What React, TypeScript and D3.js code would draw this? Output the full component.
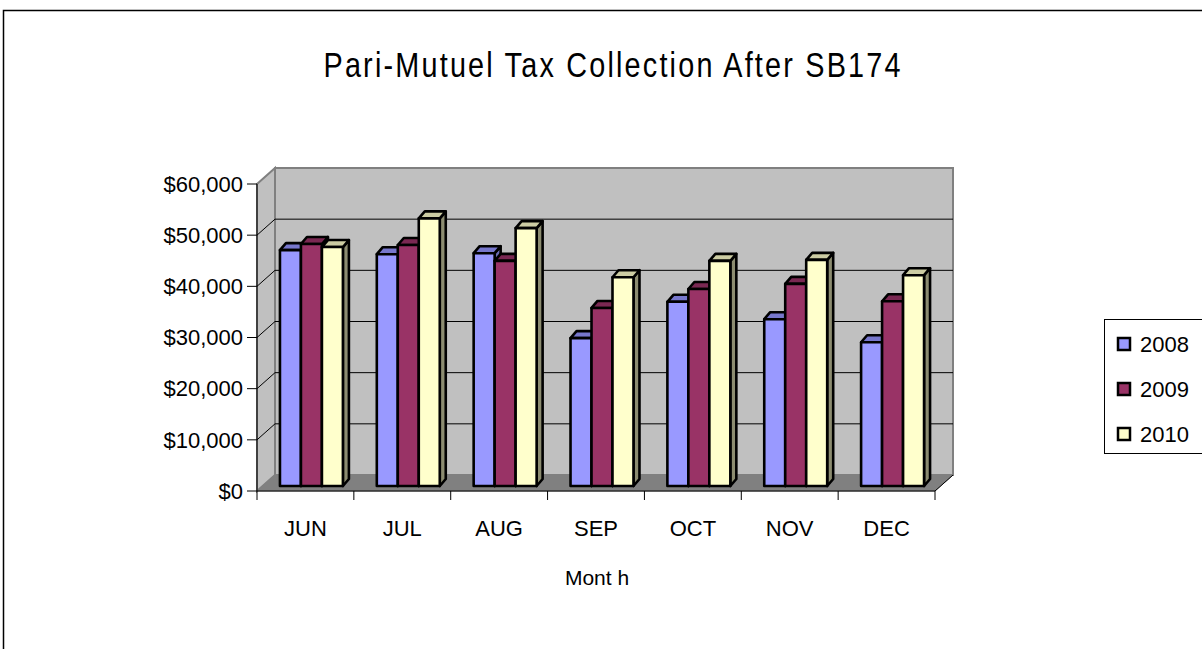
import React from "react";
import * as d3 from "d3";

const months = ["JUN", "JUL", "AUG", "SEP", "OCT", "NOV", "DEC"];
const seriesNames = ["2008", "2009", "2010"];
const values2008 = [46100, 45300, 45500, 28900, 36000, 32600, 28100];
const values2009 = [47300, 47100, 44000, 34800, 38500, 39500, 36100];
const values2010 = [46700, 52300, 50400, 40800, 44000, 44200, 41200];
const yTicks = [0, 10000, 20000, 30000, 40000, 50000, 60000];

const frontColors = ["#9999ff", "#993366", "#ffffcc"];
const topColors = ["#7777cc", "#7a2852", "#cccca3"];
const sideColors = ["#6b6bb3", "#6b2447", "#8c8c70"];

const FONT = "'Liberation Sans', Arial, sans-serif";

export default function App() {
  const seriesVals = [values2008, values2009, values2010];
  const x0 = 257, x1 = 935;
  const yBase = 491, yTopV = 184;
  const DX = 18, DY = -16;
  const bDX = 6, bDY = -5;
  const bdx = 6, bdy = -7;

  const x = d3.scaleBand<string>().domain(months).range([x0, x1]).paddingInner(0).paddingOuter(0);
  const y = d3.scaleLinear().domain([0, 60000]).range([yBase, yTopV]);
  const groupW = x.bandwidth() * 0.65;
  const inner = d3.scaleBand<string>().domain(seriesNames).range([0, groupW]).padding(0);

  const fmt = (v: number) => "$" + d3.format(",")(v);

  const backL = x0 + DX, backR = x1 + DX;
  const backT = y(60000) + DY, backB = y(0) + DY;

  const titleScale = 0.8;
  const titleX = 612;

  return (
    <svg width={1202} height={649} style={{ position: "absolute", left: 0, top: 0 }}>
      <rect x={0} y={0} width={1202} height={649} fill="#fff" />
      <rect x={3.5} y={10.5} width={1220} height={660} fill="none" stroke="#000" strokeWidth={1.5} />
      <g transform={`translate(${titleX},77) scale(${titleScale},1)`}>
        <text x={0} y={0} textAnchor="middle" fontFamily={FONT} fontSize={36} textLength={577 / titleScale} lengthAdjust="spacing" fill="#000">
          Pari-Mutuel Tax Collection After SB174
        </text>
      </g>

      <polygon points={`${backL},${backT} ${backR},${backT} ${backR},${backB} ${backL},${backB}`} fill="#c0c0c0" stroke="#808080" strokeWidth={2} />
      <polygon points={`${x0},${y(60000)} ${backL},${backT} ${backL},${backB} ${x0},${yBase}`} fill="#c0c0c0" stroke="#808080" strokeWidth={2} />
      <polygon points={`${x0},${yBase} ${backL},${backB} ${backR},${backB} ${x1},${yBase}`} fill="#808080" stroke="#808080" strokeWidth={1} />
      <line x1={x1} y1={yBase} x2={backR} y2={backB} stroke="#000" strokeWidth={1} />

      {yTicks.filter(t => t > 0 && t < 60000).map(t => (
        <g key={"g" + t}>
          <line x1={x0} y1={y(t)} x2={backL} y2={y(t) + DY} stroke="#000" strokeWidth={1} />
          <line x1={backL} y1={y(t) + DY} x2={backR} y2={y(t) + DY} stroke="#000" strokeWidth={1} />
        </g>
      ))}

      {months.map((m, i) => {
        const gx = (x(m) as number) + (x.bandwidth() - groupW) / 2 + bDX;
        return (
          <g key={m}>
            {seriesNames.map((s, k) => {
              const v = seriesVals[k][i];
              const bx = gx + (inner(s) as number);
              const bw = inner.bandwidth();
              const yt = y(v) + bDY;
              const yb = y(0) + bDY;
              return (
                <g key={s} stroke="#000" strokeWidth={2.6} strokeLinejoin="round">
                  <polygon points={`${bx + bw},${yt} ${bx + bw + bdx},${yt + bdy} ${bx + bw + bdx},${yb + bdy} ${bx + bw},${yb}`} fill={sideColors[k]} />
                  <polygon points={`${bx},${yt} ${bx + bdx},${yt + bdy} ${bx + bw + bdx},${yt + bdy} ${bx + bw},${yt}`} fill={topColors[k]} />
                  <rect x={bx} y={yt} width={bw} height={yb - yt} fill={frontColors[k]} />
                </g>
              );
            })}
          </g>
        );
      })}

      <line x1={x0} y1={y(60000)} x2={x0} y2={yBase + 9} stroke="#000" strokeWidth={1} />
      {yTicks.map(t => (
        <g key={"t" + t}>
          <line x1={x0 - 10} y1={y(t)} x2={x0} y2={y(t)} stroke="#000" strokeWidth={1} />
          <text x={243} y={y(t)} dy="0.35em" textAnchor="end" fontFamily={FONT} fontSize={22} fill="#000">{fmt(t)}</text>
        </g>
      ))}

      <line x1={x0} y1={yBase} x2={x1} y2={yBase} stroke="#000" strokeWidth={1} />
      {months.map(m => (
        <line key={"ct" + m} x1={(x(m) as number) + x.bandwidth()} y1={yBase} x2={(x(m) as number) + x.bandwidth()} y2={yBase + 9} stroke="#000" strokeWidth={1} />
      ))}
      {months.map(m => (
        <text key={"cl" + m} x={(x(m) as number) + x.bandwidth() / 2} y={528} dy="0.35em" textAnchor="middle" fontFamily={FONT} fontSize={22} fill="#000">{m}</text>
      ))}
      <text x={597} y={578} dy="0.35em" textAnchor="middle" fontFamily={FONT} fontSize={21} fill="#000">Mont h</text>

      <rect x={1104.5} y={319.5} width={120} height={134} fill="#fff" stroke="#000" strokeWidth={1} />
      {seriesNames.map((s, k) => {
        const cy = 344 + k * 45;
        return (
          <g key={"l" + s}>
            <rect x={1118} y={cy - 6} width={12} height={12} fill={frontColors[k]} stroke="#000" strokeWidth={2.5} />
            <text x={1140} y={cy} dy="0.35em" fontFamily={FONT} fontSize={22} fill="#000">{s}</text>
          </g>
        );
      })}
    </svg>
  );
}
